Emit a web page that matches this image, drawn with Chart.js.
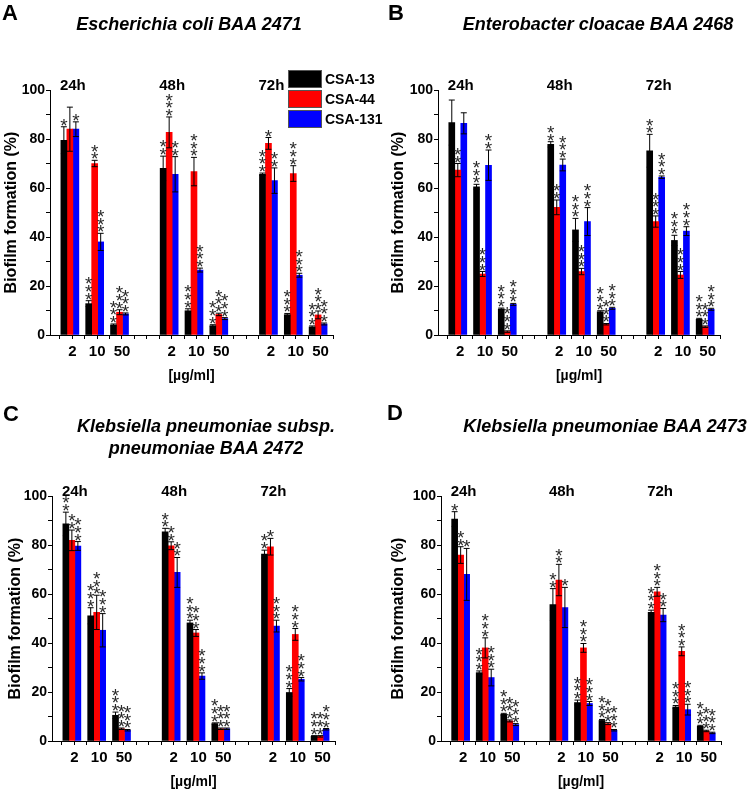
<!DOCTYPE html>
<html>
<head>
<meta charset="utf-8">
<script src="https://cdn.jsdelivr.net/npm/chart.js@4.4.1/dist/chart.umd.min.js"></script>
<style>
  html, body { margin: 0; padding: 0; background: #fff; }
  #fig { position: relative; width: 749px; height: 794px; overflow: hidden; font-family: 'Liberation Sans', Arial, sans-serif; }
  #fig canvas { position: absolute; }
  .letter { position: absolute; font-weight: bold; font-size: 22px; line-height: 1; color: #000; }
  .title { position: absolute; font-weight: bold; font-style: italic; font-size: 18px; line-height: 22px;
           white-space: nowrap; transform: translateX(-50%); text-align: center; color: #000; }
</style>
</head>
<body>
<div id="fig">
  <canvas id="chartB" width="374" height="400" style="left:375px;top:0"></canvas>
  <canvas id="chartD" width="374" height="394" style="left:375px;top:400px"></canvas>
  <canvas id="chartC" width="375" height="394" style="left:0;top:400px"></canvas>
  <canvas id="chartA" width="400" height="400" style="left:0;top:0"></canvas>

  <div class="letter" style="left:2px;top:2px">A</div>
  <div class="letter" style="left:388px;top:2px">B</div>
  <div class="letter" style="left:3px;top:403px">C</div>
  <div class="letter" style="left:387px;top:402px">D</div>

  <div class="title" style="left:189px;top:13px">Escherichia coli BAA 2471</div>
  <div class="title" style="left:598px;top:13px">Enterobacter cloacae BAA 2468</div>
  <div class="title" style="left:206px;top:415px">Klebsiella pneumoniae subsp.<br>pneumoniae BAA 2472</div>
  <div class="title" style="left:605px;top:415px">Klebsiella pneumoniae BAA 2473</div>
</div>

<script>
// categories
const concLabels = ['2', '10', '50'];
const timeLabels = ['24h', '48h', '72h'];
const compounds = ['CSA-13', 'CSA-44', 'CSA-131'];
const barColors = ['#000000', '#ff0000', '#0000ff'];

// values in order 24h(2,10,50), 48h(2,10,50), 72h(2,10,50)
// A - E. coli BAA 2471
const ecoli13 = [79.5, 12.8, 4.1, 68.0, 9.9, 3.8, 65.6, 8.3, 3.3];
const ecoli44 = [84.0, 70.0, 9.3, 82.7, 66.7, 8.4, 78.2, 65.9, 8.2];
const ecoli131 = [84.0, 38.0, 8.6, 65.6, 26.5, 6.7, 63.0, 24.4, 4.5];
const ecoli13Err = [5.5, 1.2, 0.4, 5.0, 0.8, 0.4, 0.5, 0.5, 0.4];
const ecoli44Err = [9.0, 1.3, 1.0, 6.3, 5.8, 0.5, 2.4, 3.2, 1.6];
const ecoli131Err = [3.0, 3.5, 0.4, 7.2, 0.8, 0.4, 5.2, 0.8, 0.4];
const ecoli13Stars = [1, 3, 3, 2, 3, 3, 3, 3, 3];
const ecoli44Stars = [0, 2, 3, 3, 3, 3, 1, 3, 3];
const ecoli131Stars = [1, 3, 3, 2, 3, 3, 2, 3, 3];

// B - E. cloacae BAA 2468
const cloacae13 = [86.7, 60.5, 10.6, 77.8, 42.9, 9.5, 75.2, 38.6, 6.4];
const cloacae44 = [67.3, 24.9, 1.4, 52.1, 25.9, 4.4, 46.3, 24.5, 3.4];
const cloacae131 = [86.4, 69.3, 12.5, 69.4, 46.3, 10.9, 64.4, 42.4, 10.5];
const cloacae13Err = [9.2, 1.0, 0.4, 1.1, 4.7, 0.4, 6.7, 2.1, 0.4];
const cloacae44Err = [2.7, 1.0, 0.3, 3.0, 1.3, 0.3, 2.3, 1.4, 0.3];
const cloacae131Err = [4.3, 6.2, 0.4, 2.4, 5.7, 0.4, 0.5, 1.8, 0.4];
const cloacae13Stars = [0, 3, 3, 2, 3, 3, 2, 3, 3];
const cloacae44Stars = [2, 3, 3, 2, 3, 3, 3, 3, 3];
const cloacae131Stars = [0, 2, 3, 3, 3, 3, 3, 3, 3];

// C - K. pneumoniae subsp. pneumoniae BAA 2472
const kp2472_13 = [88.6, 51.1, 10.5, 85.4, 48.2, 7.1, 76.3, 19.8, 1.9];
const kp2472_44 = [81.9, 52.5, 5.0, 79.7, 44.1, 5.0, 79.3, 43.5, 1.9];
const kp2472_131 = [79.6, 45.2, 4.4, 68.8, 26.5, 5.0, 46.9, 25.2, 4.8];
const kp2472_13Err = [4.8, 3.3, 1.3, 1.4, 1.1, 0.3, 1.6, 1.6, 0.3];
const kp2472_44Err = [4.2, 7.0, 0.3, 1.6, 1.4, 0.3, 3.4, 2.4, 0.3];
const kp2472_131Err = [1.8, 6.8, 0.3, 6.1, 1.3, 0.3, 2.4, 0.7, 0.3];
const kp2472_13Stars = [2, 3, 3, 2, 3, 3, 2, 3, 3];
const kp2472_44Stars = [2, 3, 3, 2, 3, 3, 1, 3, 3];
const kp2472_131Stars = [3, 3, 3, 2, 3, 3, 3, 3, 3];

// D - K. pneumoniae BAA 2473
const kp2473_13 = [90.6, 27.9, 10.9, 55.7, 15.7, 8.4, 52.5, 13.9, 6.0];
const kp2473_44 = [75.9, 38.0, 8.2, 65.7, 38.0, 7.1, 60.9, 36.6, 4.1];
const kp2473_131 = [68.0, 25.9, 6.7, 54.5, 15.3, 4.4, 51.4, 12.8, 3.3];
const kp2473_13Err = [3.0, 0.7, 0.4, 6.5, 1.0, 0.4, 0.9, 0.6, 0.4];
const kp2473_44Err = [3.4, 4.1, 0.4, 6.4, 1.8, 0.4, 1.8, 1.8, 0.3];
const kp2473_131Err = [10.6, 3.4, 0.4, 8.2, 0.8, 0.3, 2.7, 2.2, 0.3];
const kp2473_13Stars = [1, 3, 3, 2, 3, 3, 3, 3, 3];
const kp2473_44Stars = [2, 3, 3, 2, 3, 3, 3, 3, 3];
const kp2473_131Stars = [1, 3, 3, 1, 3, 3, 2, 3, 3];

Chart.defaults.font.family = "'Liberation Sans', Arial, sans-serif";
Chart.defaults.color = '#000';

// concentration slots: 3 per time point, one empty slot between time points
function slotOf(i) { return Math.floor(i / 3) * 4 + (i % 3); }

// error bars, significance stars and time labels
const annotate = {
  id: 'annotate',
  afterDatasetsDraw(chart) {
    const ctx = chart.ctx;
    const xs = chart.scales.x, ys = chart.scales.y;
    ctx.save();
    chart.data.datasets.forEach((ds, i) => {
      chart.getDatasetMeta(i).data.forEach((bar, j) => {
        const v = ds.data[j].y, e = ds.errors[j];
        const top = ys.getPixelForValue(v + e);
        const bot = ys.getPixelForValue(Math.max(v - e, 0));
        const hw = bar.width / 2;
        ctx.strokeStyle = '#000';
        ctx.lineWidth = 1;
        ctx.beginPath();
        ctx.moveTo(bar.x, top); ctx.lineTo(bar.x, bot);
        ctx.moveTo(bar.x - hw, top); ctx.lineTo(bar.x + hw, top);
        ctx.moveTo(bar.x - hw, bot); ctx.lineTo(bar.x + hw, bot);
        ctx.stroke();

        ctx.fillStyle = '#2a2a2a';
        ctx.font = "19px 'Liberation Sans'";
        ctx.textAlign = 'center';
        ctx.textBaseline = 'alphabetic';
        for (let s = 0; s < ds.stars[j]; s++) {
          ctx.fillText('*', bar.x, top - 6 - s * 7.7 + 11);
        }
      });
    });
    ctx.fillStyle = '#000';
    ctx.font = "bold 15px 'Liberation Sans'";
    ctx.textAlign = 'center';
    ctx.textBaseline = 'middle';
    timeLabels.forEach((t, i) => {
      ctx.fillText(t, xs.getPixelForValue(i * 4 + 0.12), chart.chartArea.top - 4);
    });
    ctx.restore();
  }
};

// boxed legend drawn only on panel A
const boxLegend = {
  id: 'boxLegend',
  afterDraw(chart, args, opts) {
    if (!opts.show) return;
    const ctx = chart.ctx;
    ctx.save();
    chart.data.datasets.forEach((ds, i) => {
      const top = opts.y + i * (opts.h + opts.gap);
      ctx.fillStyle = ds.backgroundColor;
      ctx.fillRect(opts.x, top, opts.w, opts.h);
      ctx.strokeStyle = '#555';
      ctx.lineWidth = 1;
      ctx.strokeRect(opts.x + 0.5, top + 0.5, opts.w - 1, opts.h - 1);
      ctx.fillStyle = '#000';
      ctx.font = "bold 14px 'Liberation Sans'";
      ctx.textAlign = 'left';
      ctx.textBaseline = 'middle';
      ctx.fillText(ds.label, opts.x + opts.w + 3, top + opts.h / 2 + 1);
    });
    ctx.restore();
  }
};

function makeChart(id, values, errors, stars, box, legend) {
  return new Chart(document.getElementById(id), {
    type: 'bar',
    data: {
      datasets: compounds.map((name, i) => ({
        label: name,
        data: values[i].map((v, j) => ({ x: slotOf(j), y: v })),
        errors: errors[i],
        stars: stars[i],
        backgroundColor: barColors[i],
        borderWidth: 0,
        barThickness: 6
      }))
    },
    options: {
      responsive: false,
      animation: false,
      events: [],
      layout: { padding: { left: box.padL, right: box.padR, top: box.padT, bottom: box.padB } },
      plugins: {
        legend: { display: false },
        tooltip: { enabled: false },
        boxLegend: legend || { show: false }
      },
      scales: {
        x: {
          type: 'linear',
          min: -0.8,
          max: 10.6,
          offset: false,
          grid: { drawOnChartArea: false, drawTicks: true, tickLength: 4, color: '#000', offset: false },
          border: { display: true, color: '#000', width: 1 },
          afterBuildTicks: s => {
            const t = [];
            for (let v = -0.5; v <= 10.51; v += 0.5) t.push({ value: v + 0.1 });
            s.ticks = t;
          },
          afterFit: s => { s.height = 50; },
          ticks: {
            autoSkip: false,
            maxRotation: 0,
            padding: 4,
            font: { size: 15, weight: 'bold' },
            callback: value => {
              const k = Math.round(value - 0.1);
              if (Math.abs(value - 0.1 - k) > 0.01) return '';
              const c = k % 4;
              return c < 3 ? concLabels[c] : '';
            }
          },
          title: { display: true, text: '[µg/ml]', font: { size: 14, weight: 'bold' }, padding: { top: 0, bottom: 0 } }
        },
        y: {
          min: 0,
          max: 100,
          grid: { drawOnChartArea: false, tickLength: 4, color: '#000' },
          border: { display: true, color: '#000', width: 1 },
          afterFit: s => { s.width = box.yW; },
          ticks: {
            stepSize: 10,
            padding: 1,
            font: { size: 14, weight: 'bold' },
            callback: v => (v % 20 === 0 ? v : '')
          },
          title: { display: true, text: 'Biofilm formation (%)', font: { size: 16, weight: 'bold' }, padding: { top: 1.5, bottom: 0 } }
        }
      }
    },
    plugins: [annotate, boxLegend]
  });
}

makeChart('chartB',
  [cloacae13, cloacae44, cloacae131],
  [cloacae13Err, cloacae44Err, cloacae131Err],
  [cloacae13Stars, cloacae44Stars, cloacae131Stars],
  { padL: 12, yW: 51, padR: 29, padT: 90, padB: 15 });

makeChart('chartD',
  [kp2473_13, kp2473_44, kp2473_131],
  [kp2473_13Err, kp2473_44Err, kp2473_131Err],
  [kp2473_13Stars, kp2473_44Stars, kp2473_131Stars],
  { padL: 12, yW: 54, padR: 28, padT: 96, padB: 3 });

makeChart('chartC',
  [kp2472_13, kp2472_44, kp2472_131],
  [kp2472_13Err, kp2472_44Err, kp2472_131Err],
  [kp2472_13Stars, kp2472_44Stars, kp2472_131Stars],
  { padL: 4, yW: 48, padR: 40, padT: 96, padB: 3 });

makeChart('chartA',
  [ecoli13, ecoli44, ecoli131],
  [ecoli13Err, ecoli44Err, ecoli131Err],
  [ecoli13Stars, ecoli44Stars, ecoli131Stars],
  { padL: 0, yW: 50, padR: 67, padT: 90, padB: 15 },
  { show: true, x: 288, y: 70, w: 34, h: 18, gap: 2 });
</script>
</body>
</html>
